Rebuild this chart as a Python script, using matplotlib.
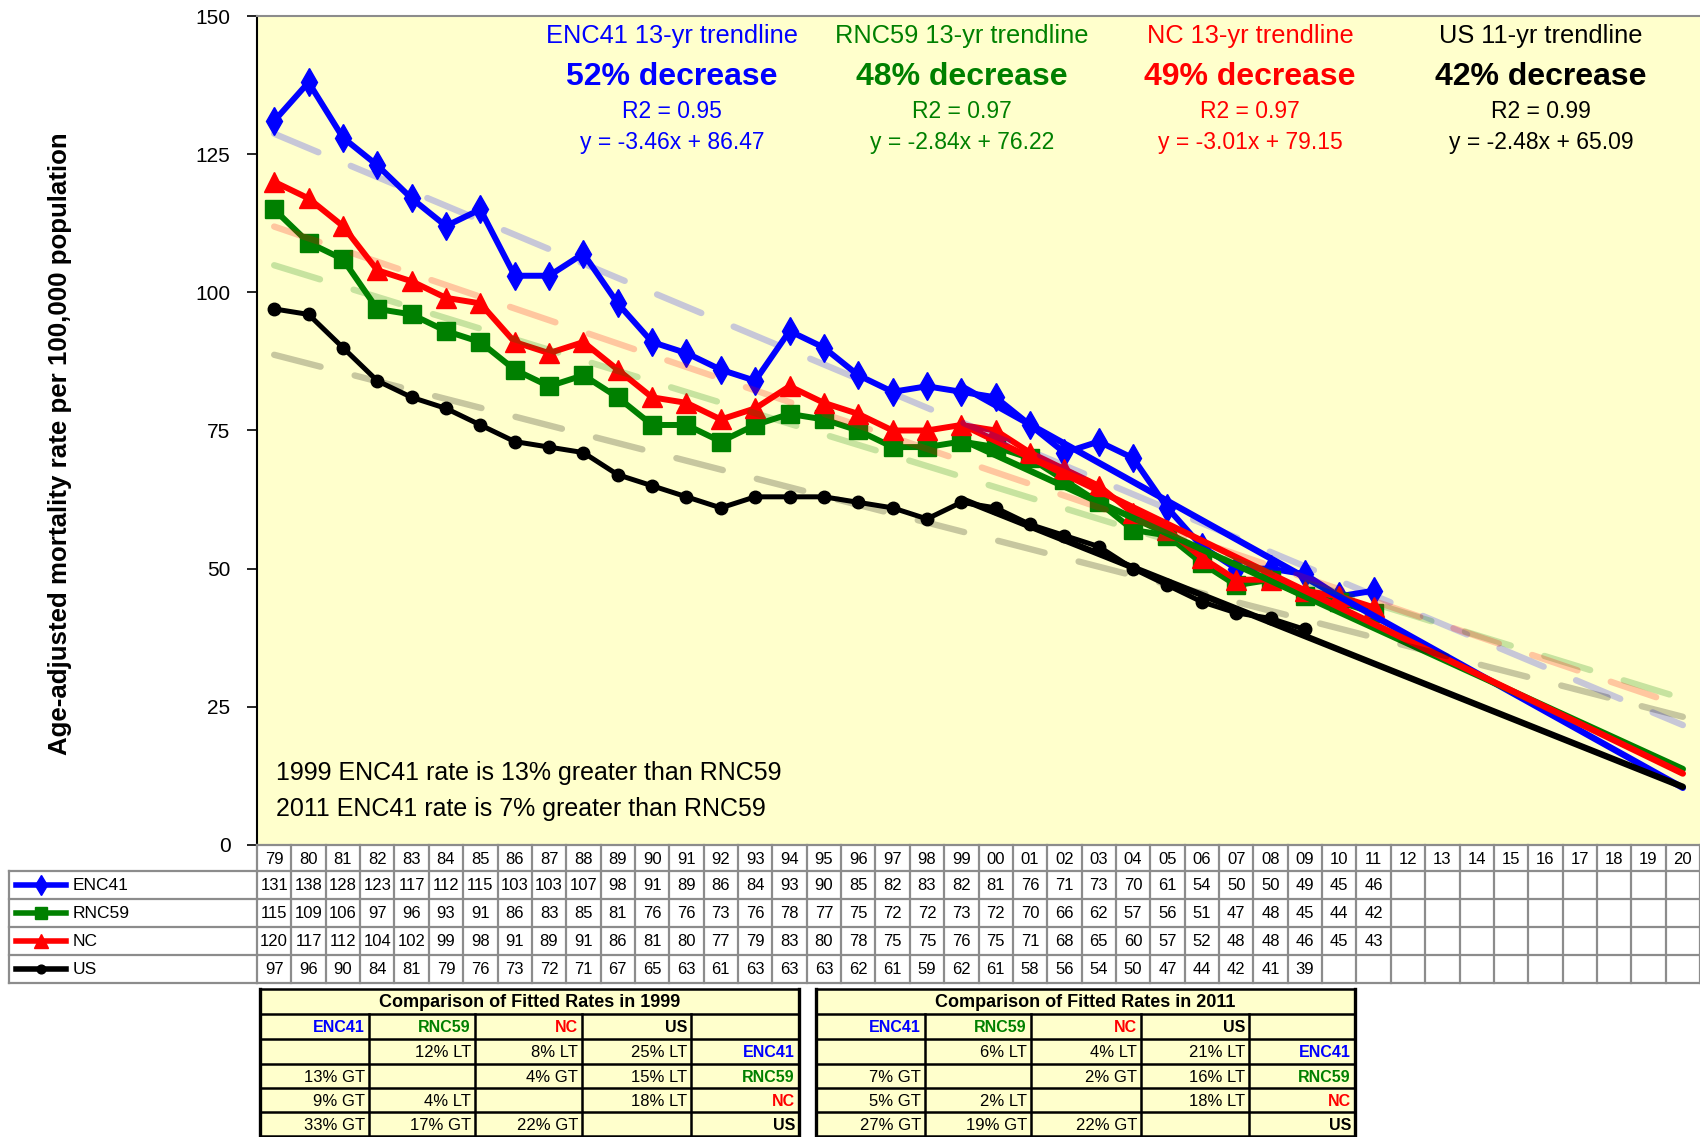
import matplotlib
matplotlib.use("Agg")
import matplotlib.pyplot as plt
import numpy as np

plt.rcParams['font.family'] = ['Liberation Sans', 'DejaVu Sans']

# ---------------- data ----------------
year_labels = ['79', '80', '81', '82', '83', '84', '85', '86', '87', '88', '89', '90',
               '91', '92', '93', '94', '95', '96', '97', '98', '99', '00', '01', '02',
               '03', '04', '05', '06', '07', '08', '09', '10', '11', '12', '13', '14',
               '15', '16', '17', '18', '19', '20']

enc41 = [131, 138, 128, 123, 117, 112, 115, 103, 103, 107, 98, 91, 89, 86, 84, 93, 90,
         85, 82, 83, 82, 81, 76, 71, 73, 70, 61, 54, 50, 50, 49, 45, 46]
rnc59 = [115, 109, 106, 97, 96, 93, 91, 86, 83, 85, 81, 76, 76, 73, 76, 78, 77,
         75, 72, 72, 73, 72, 70, 66, 62, 57, 56, 51, 47, 48, 45, 44, 42]
nc = [120, 117, 112, 104, 102, 99, 98, 91, 89, 91, 86, 81, 80, 77, 79, 83, 80,
      78, 75, 75, 76, 75, 71, 68, 65, 60, 57, 52, 48, 48, 46, 45, 43]
us = [97, 96, 90, 84, 81, 79, 76, 73, 72, 71, 67, 65, 63, 61, 63, 63, 63,
      62, 61, 59, 62, 61, 58, 56, 54, 50, 47, 44, 42, 41, 39]

series_names = ['ENC41', 'RNC59', 'NC', 'US']
series_values = [enc41, rnc59, nc, us]
series_colors = ['#0000FF', '#008000', '#FF0000', '#000000']

# long faded trendlines (at 1979 and 2020)
trend_start = [128.7, 104.9, 111.9, 88.7]
trend_end = [21.7, 26.5, 25.1, 23.2]

# short fitted trendlines, x = 1 in 1999, projected to 2020 (x = 22)
fit_slope = [-3.46, -2.84, -3.01, -2.48]
fit_intercept = [86.47, 76.22, 79.15, 65.09]
fit_x = [1, 22]

head_titles = ['ENC41 13-yr trendline', 'RNC59 13-yr trendline',
               'NC 13-yr trendline', 'US 11-yr trendline']
head_decrease = ['52% decrease', '48% decrease', '49% decrease', '42% decrease']
head_r2 = ['R2 = 0.95', 'R2 = 0.97', 'R2 = 0.97', 'R2 = 0.99']
head_eq = ['y = -3.46x + 86.47', 'y = -2.84x + 76.22',
           'y = -3.01x + 79.15', 'y = -2.48x + 65.09']

notes = ['1999 ENC41 rate is 13% greater than RNC59',
         '2011 ENC41 rate is 7% greater than RNC59']

cmp_titles = ['Comparison of Fitted Rates in 1999', 'Comparison of Fitted Rates in 2011']
cmp_1999 = [['', '12% LT', '8% LT', '25% LT'],
            ['13% GT', '', '4% GT', '15% LT'],
            ['9% GT', '4% LT', '', '18% LT'],
            ['33% GT', '17% GT', '22% GT', '']]
cmp_2011 = [['', '6% LT', '4% LT', '21% LT'],
            ['7% GT', '', '2% GT', '16% LT'],
            ['5% GT', '2% LT', '', '18% LT'],
            ['27% GT', '19% GT', '22% GT', '']]

# ---------------- figure ----------------
W, H = 1700, 1137
fig = plt.figure(figsize=(W / 100, H / 100), dpi=100)
fig.patch.set_facecolor('white')


def box(x0, y0, x1, y1):
    return [x0 / W, 1 - y1 / H, (x1 - x0) / W, (y1 - y0) / H]


BG = '#FFFFCC'
GRID = '#8C8C8C'

ax = fig.add_axes(box(257, 16, 1700, 845))
ax.set_facecolor(BG)
ax.set_xlim(-0.5, len(year_labels) - 0.5)
ax.set_ylim(0, 150)
ax.set_yticks([0, 25, 50, 75, 100, 125, 150])
ax.tick_params(axis='y', length=7, width=1.2, labelsize=15, pad=12, direction='out')
ax.set_xticks([])
for s in ['right', 'bottom']:
    ax.spines[s].set_visible(False)
ax.spines['left'].set_linewidth(1.5)
ax.spines['top'].set_color('#8C8C8C')
ax.spines['top'].set_linewidth(1.5)

marker_specs = [dict(marker='d', ms=14), dict(marker='s', ms=13),
                dict(marker='^', ms=14), dict(marker='o', ms=9)]
line_widths = [4.3, 4.3, 4.3, 3.6]

# data series
for vals, col, mk, lw in zip(series_values, series_colors, marker_specs, line_widths):
    x = np.arange(len(vals))
    ax.plot(x, vals, color=col, lw=lw, mec=col, mfc=col, zorder=3, **mk)

# short fitted lines (solid)
for sl, ic, col in zip(fit_slope, fit_intercept, series_colors):
    xf = np.array(fit_x)
    idx = xf + year_labels.index('99') - 1
    ax.plot(idx, sl * xf + ic, color=col, lw=4.6, solid_capstyle='round', zorder=4)

# long faded trendlines (dashed)
for st, en, col in zip(trend_start, trend_end, series_colors):
    ax.plot([0, len(year_labels) - 1], [st, en], color=col, alpha=0.22, lw=4.6,
            dashes=(7.5, 5.5), dash_capstyle='round', zorder=5)

# headline annotations
head_x = [672, 962, 1250, 1541]
for hx, t, d, r, e, col in zip(head_x, head_titles, head_decrease, head_r2, head_eq,
                               series_colors):
    fig.text(hx / W, 1 - 36 / H, t, color=col, fontsize=18.3, ha='center', va='center')
    fig.text(hx / W, 1 - 77 / H, d, color=col, fontsize=23, weight='bold',
             ha='center', va='center')
    fig.text(hx / W, 1 - 111 / H, r, color=col, fontsize=16.5, ha='center', va='center')
    fig.text(hx / W, 1 - 143 / H, e, color=col, fontsize=16.5, ha='center', va='center')

for i, n in enumerate(notes):
    fig.text(276 / W, 1 - (773 + 36 * i) / H, n, fontsize=18, ha='left', va='center')

fig.text(60 / W, 1 - 444 / H, 'Age-adjusted mortality rate per 100,000 population',
         rotation=90, fontsize=18.6, weight='bold', ha='center', va='center')

# ---------------- data table ----------------
row_edges = [845, 871, 899, 927, 955, 983]
tab = fig.add_axes(box(257, 845, 1700, 983))
tab.set_xlim(-0.5, len(year_labels) - 0.5)
tab.set_ylim(983, 845)
tab.axis('off')
for i in range(len(year_labels) + 1):
    tab.plot([i - 0.5, i - 0.5], [845, 983], color=GRID, lw=1.6, clip_on=False)
for y in row_edges:
    tab.plot([-0.5, len(year_labels) - 0.5], [y, y], color=GRID, lw=1.6, clip_on=False)
for i, lab in enumerate(year_labels):
    tab.text(i, (row_edges[0] + row_edges[1]) / 2 + 1, lab, ha='center', va='center',
             fontsize=12)
for r, vals in enumerate(series_values):
    yc = (row_edges[r + 1] + row_edges[r + 2]) / 2 + 1
    for i, v in enumerate(vals):
        tab.text(i, yc, str(v), ha='center', va='center', fontsize=12)

# legend label column
lab_ax = fig.add_axes(box(9, 871, 257, 983))
lab_ax.set_xlim(9, 257)
lab_ax.set_ylim(983, 871)
lab_ax.axis('off')
lab_ax.plot([9, 9], [871, 983], color=GRID, lw=1.6, clip_on=False)
for y in row_edges[1:]:
    lab_ax.plot([9, 257], [y, y], color=GRID, lw=1.6, clip_on=False)
for r, (nm, col, mk) in enumerate(zip(series_names, series_colors, marker_specs)):
    yc = (row_edges[r + 1] + row_edges[r + 2]) / 2
    lab_ax.plot([16, 41, 66], [yc, yc, yc], color=col, lw=4.0, marker=mk['marker'],
                ms=mk['ms'] * 0.7, mec=col, mfc=col, markevery=[1], clip_on=False)
    lab_ax.text(73, yc + 1, nm, ha='left', va='center', fontsize=12.5)

# ---------------- comparison tables ----------------
ov = fig.add_axes([0, 0, 1, 1])
ov.set_xlim(0, W)
ov.set_ylim(H, 0)
ov.axis('off')
ov.patch.set_alpha(0)


def draw_cmp(cols, title, cells):
    rows = [989, 1014, 1039, 1064, 1088, 1112, 1136]
    x0, x1 = cols[0], cols[-1]
    ov.fill_between([x0, x1], rows[0], rows[-1], color=BG, zorder=1)
    for y in rows:
        ov.plot([x0, x1], [y, y], color='black', lw=1.8, zorder=2)
    for j, x in enumerate(cols):
        top = rows[0] if j in (0, len(cols) - 1) else rows[1]
        ov.plot([x, x], [top, rows[-1]], color='black',
                lw=2.4 if j in (0, len(cols) - 1) else 1.8, zorder=2)
    ov.text((x0 + x1) / 2, (rows[0] + rows[1]) / 2 + 1, title, ha='center', va='center',
            fontsize=13, weight='bold')
    for j, (nm, col) in enumerate(zip(series_names, series_colors)):
        ov.text(cols[j + 1] - 4, (rows[1] + rows[2]) / 2 + 1, nm, color=col, ha='right',
                va='center', fontsize=11.5, weight='bold')
        ov.text(cols[5] - 4, (rows[j + 2] + rows[j + 3]) / 2 + 1, nm, color=col,
                ha='right', va='center', fontsize=11.5, weight='bold')
    for r, row in enumerate(cells):
        for c, val in enumerate(row):
            if val:
                ov.text(cols[c + 1] - 4, (rows[r + 2] + rows[r + 3]) / 2 + 1, val,
                        ha='right', va='center', fontsize=12)


draw_cmp([260, 369, 475, 582, 691, 799], cmp_titles[0], cmp_1999)
draw_cmp([816, 925, 1031, 1141, 1249, 1355], cmp_titles[1], cmp_2011)

fig.savefig('out.png', dpi=100, facecolor='white')
